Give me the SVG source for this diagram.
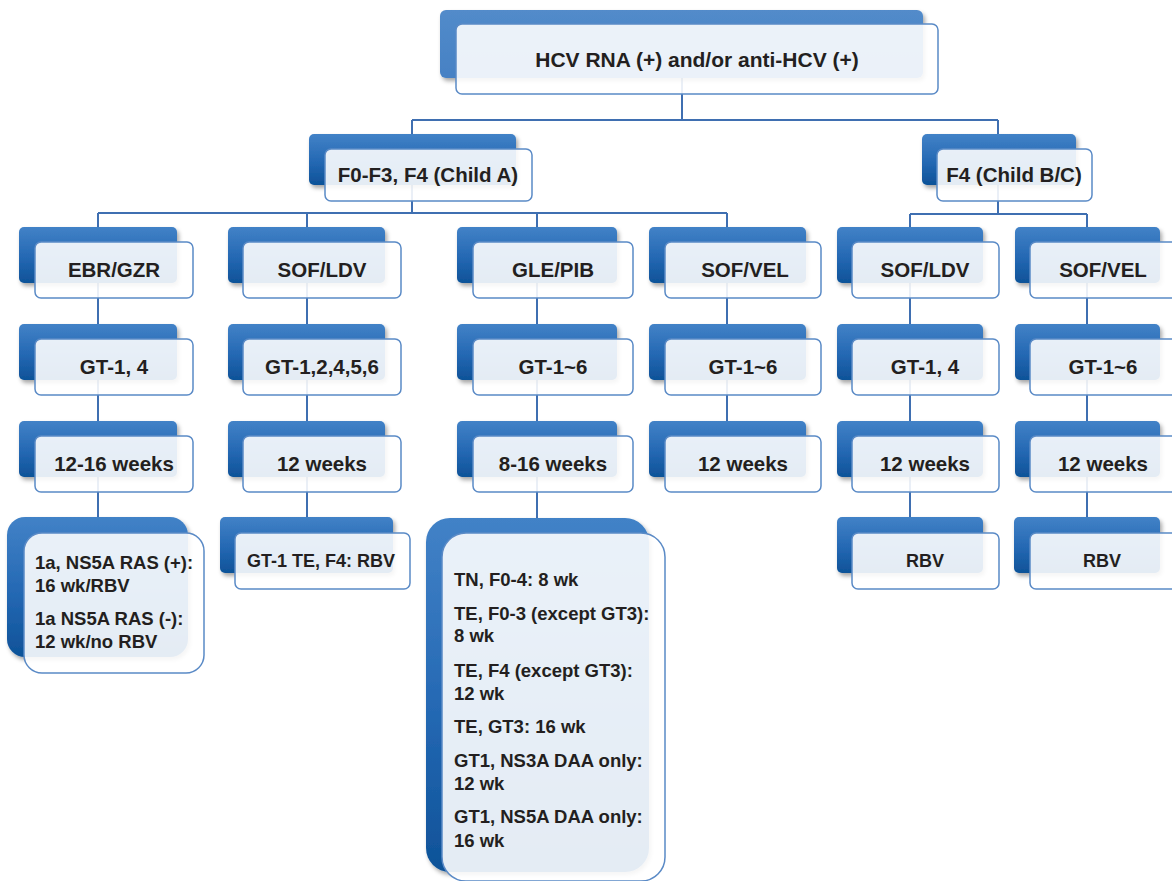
<svg xmlns="http://www.w3.org/2000/svg" width="1172" height="881" viewBox="0 0 1172 881">
<defs>
<linearGradient id="bg" x1="0" y1="0" x2="0" y2="1">
<stop offset="0" stop-color="#4282C7"/>
<stop offset="0.55" stop-color="#2468B3"/>
<stop offset="1" stop-color="#0E5298"/>
</linearGradient>
<linearGradient id="bgTop" x1="0" y1="0" x2="0" y2="1">
<stop offset="0" stop-color="#528BCA"/>
<stop offset="1" stop-color="#4681C4"/>
</linearGradient>
<filter id="sh" x="-10%" y="-10%" width="130%" height="140%">
<feDropShadow dx="2" dy="3" stdDeviation="2" flood-color="#000" flood-opacity="0.35"/>
</filter>
</defs>
<style>
.back{fill:url(#bg);filter:url(#sh)}
.backTop{fill:url(#bgTop);filter:url(#sh)}
.front{fill:#FFFFFF;fill-opacity:0.89;stroke:#5A8AC6;stroke-width:1.5}
.conn{fill:none;stroke:#3F6FB1;stroke-width:2}
text{font-family:"Liberation Sans",Arial,sans-serif;font-weight:bold;fill:#231F20}
.t21{font-size:21px;text-anchor:middle}
.t20{font-size:20.5px;text-anchor:middle}
.t18{font-size:18px;text-anchor:middle}
.l18{font-size:18.5px}
</style>
<g id="connectors">
<path class="conn" d="M682 78V120M412 120H998M412 120V134M998 120V135"/>
<path class="conn" d="M412 185V213M98 213H727M98 213V517M307 213V517M537 213V518M727 213V421"/>
<path class="conn" d="M998 184V214M910 214H1087M910 214V517M1087 214V517"/>
</g>
<g id="n-top">
<rect class="backTop" x="440" y="10" width="483" height="68" rx="6"/>
<rect class="front" x="456" y="24" width="482" height="70" rx="6"/>
<text class="t21" x="697" y="67">HCV RNA (+) and/or anti-HCV (+)</text>
</g>
<g id="n-f0f3">
<rect class="back" x="309" y="134" width="207" height="51" rx="5"/>
<rect class="front" x="325" y="149" width="207" height="52" rx="6"/>
<text class="t20" x="428" y="182">F0-F3, F4 (Child A)</text>
</g>
<g id="n-f4">
<rect class="back" x="922" y="134" width="154" height="51" rx="5"/>
<rect class="front" x="937" y="149" width="155" height="52" rx="6"/>
<text class="t20" x="1014" y="182">F4 (Child B/C)</text>
</g>
<g id="n-ebr">
<rect class="back" x="19" y="227" width="158" height="56" rx="5"/>
<rect class="front" x="35" y="242" width="158" height="56" rx="6"/>
<text class="t20" x="114" y="277">EBR/GZR</text>
</g>
<g id="n-sofldv1">
<rect class="back" x="228" y="227" width="157" height="56" rx="5"/>
<rect class="front" x="243" y="242" width="158" height="56" rx="6"/>
<text class="t20" x="322" y="277">SOF/LDV</text>
</g>
<g id="n-glepib">
<rect class="back" x="457" y="227" width="160" height="56" rx="5"/>
<rect class="front" x="473" y="242" width="160" height="56" rx="6"/>
<text class="t20" x="553" y="277">GLE/PIB</text>
</g>
<g id="n-sofvel1">
<rect class="back" x="649" y="227" width="157" height="56" rx="5"/>
<rect class="front" x="665" y="242" width="156" height="56" rx="6"/>
<text class="t20" x="745" y="277">SOF/VEL</text>
</g>
<g id="n-sofldv2">
<rect class="back" x="837" y="227" width="146" height="56" rx="5"/>
<rect class="front" x="852" y="242" width="147" height="56" rx="6"/>
<text class="t20" x="925" y="277">SOF/LDV</text>
</g>
<g id="n-sofvel2">
<rect class="back" x="1015" y="227" width="145" height="56" rx="5"/>
<rect class="front" x="1030" y="242" width="147" height="56" rx="6"/>
<text class="t20" x="1103" y="277">SOF/VEL</text>
</g>
<g id="n-gt1">
<rect class="back" x="19" y="324" width="158" height="56" rx="5"/>
<rect class="front" x="35" y="339" width="158" height="56" rx="6"/>
<text class="t20" x="114" y="374">GT-1, 4</text>
</g>
<g id="n-gt2">
<rect class="back" x="228" y="324" width="157" height="56" rx="5"/>
<rect class="front" x="243" y="339" width="158" height="56" rx="6"/>
<text class="t20" x="322" y="374">GT-1,2,4,5,6</text>
</g>
<g id="n-gt3">
<rect class="back" x="457" y="324" width="160" height="56" rx="5"/>
<rect class="front" x="473" y="339" width="160" height="56" rx="6"/>
<text class="t20" x="553" y="374">GT-1~6</text>
</g>
<g id="n-gt4">
<rect class="back" x="649" y="324" width="157" height="56" rx="5"/>
<rect class="front" x="665" y="339" width="156" height="56" rx="6"/>
<text class="t20" x="743" y="374">GT-1~6</text>
</g>
<g id="n-gt5">
<rect class="back" x="837" y="324" width="146" height="56" rx="5"/>
<rect class="front" x="852" y="339" width="147" height="56" rx="6"/>
<text class="t20" x="925" y="374">GT-1, 4</text>
</g>
<g id="n-gt6">
<rect class="back" x="1015" y="324" width="145" height="56" rx="5"/>
<rect class="front" x="1030" y="339" width="147" height="56" rx="6"/>
<text class="t20" x="1103" y="374">GT-1~6</text>
</g>
<g id="n-w1">
<rect class="back" x="19" y="421" width="158" height="56" rx="5"/>
<rect class="front" x="35" y="436" width="158" height="56" rx="6"/>
<text class="t20" x="114" y="471">12-16 weeks</text>
</g>
<g id="n-w2">
<rect class="back" x="228" y="421" width="157" height="56" rx="5"/>
<rect class="front" x="243" y="436" width="158" height="56" rx="6"/>
<text class="t20" x="322" y="471">12 weeks</text>
</g>
<g id="n-w3">
<rect class="back" x="457" y="421" width="160" height="56" rx="5"/>
<rect class="front" x="473" y="436" width="160" height="56" rx="6"/>
<text class="t20" x="553" y="471">8-16 weeks</text>
</g>
<g id="n-w4">
<rect class="back" x="649" y="421" width="157" height="56" rx="5"/>
<rect class="front" x="665" y="436" width="156" height="56" rx="6"/>
<text class="t20" x="743" y="471">12 weeks</text>
</g>
<g id="n-w5">
<rect class="back" x="837" y="421" width="146" height="56" rx="5"/>
<rect class="front" x="852" y="436" width="147" height="56" rx="6"/>
<text class="t20" x="925" y="471">12 weeks</text>
</g>
<g id="n-w6">
<rect class="back" x="1015" y="421" width="145" height="56" rx="5"/>
<rect class="front" x="1030" y="436" width="147" height="56" rx="6"/>
<text class="t20" x="1103" y="471">12 weeks</text>
</g>
<g id="n-ebr-leaf">
<rect class="back" x="7" y="517" width="181" height="140" rx="18"/>
<rect class="front" x="24" y="533" width="180" height="140" rx="18"/>
<text class="l18" x="35" y="569">1a, NS5A RAS (+):</text>
<text class="l18" x="35" y="592">16 wk/RBV</text>
<text class="l18" x="35" y="625">1a NS5A RAS (-):</text>
<text class="l18" x="35" y="648">12 wk/no RBV</text>
</g>
<g id="n-sofldv-leaf">
<rect class="back" x="220" y="517" width="173" height="56" rx="5"/>
<rect class="front" x="235" y="533" width="175" height="56" rx="6"/>
<text class="t18" x="321" y="567">GT-1 TE, F4: RBV</text>
</g>
<g id="n-gle-leaf">
<rect class="back" x="426" y="518" width="223" height="354" rx="24"/>
<rect class="front" x="442" y="533" width="223" height="348" rx="24"/>
<text class="l18" x="454" y="586">TN, F0-4: 8 wk</text>
<text class="l18" x="454" y="620">TE, F0-3 (except GT3):</text>
<text class="l18" x="454" y="642">8 wk</text>
<text class="l18" x="454" y="677">TE, F4 (except GT3):</text>
<text class="l18" x="454" y="700">12 wk</text>
<text class="l18" x="454" y="733">TE, GT3: 16 wk</text>
<text class="l18" x="454" y="767">GT1, NS3A DAA only:</text>
<text class="l18" x="454" y="790">12 wk</text>
<text class="l18" x="454" y="823">GT1, NS5A DAA only:</text>
<text class="l18" x="454" y="847">16 wk</text>
</g>
<g id="n-rbv1">
<rect class="back" x="837" y="517" width="146" height="56" rx="5"/>
<rect class="front" x="852" y="533" width="147" height="56" rx="6"/>
<text class="t18" x="925" y="567">RBV</text>
</g>
<g id="n-rbv2">
<rect class="back" x="1014" y="517" width="146" height="56" rx="5"/>
<rect class="front" x="1030" y="533" width="147" height="56" rx="6"/>
<text class="t18" x="1102" y="567">RBV</text>
</g>
</svg>
